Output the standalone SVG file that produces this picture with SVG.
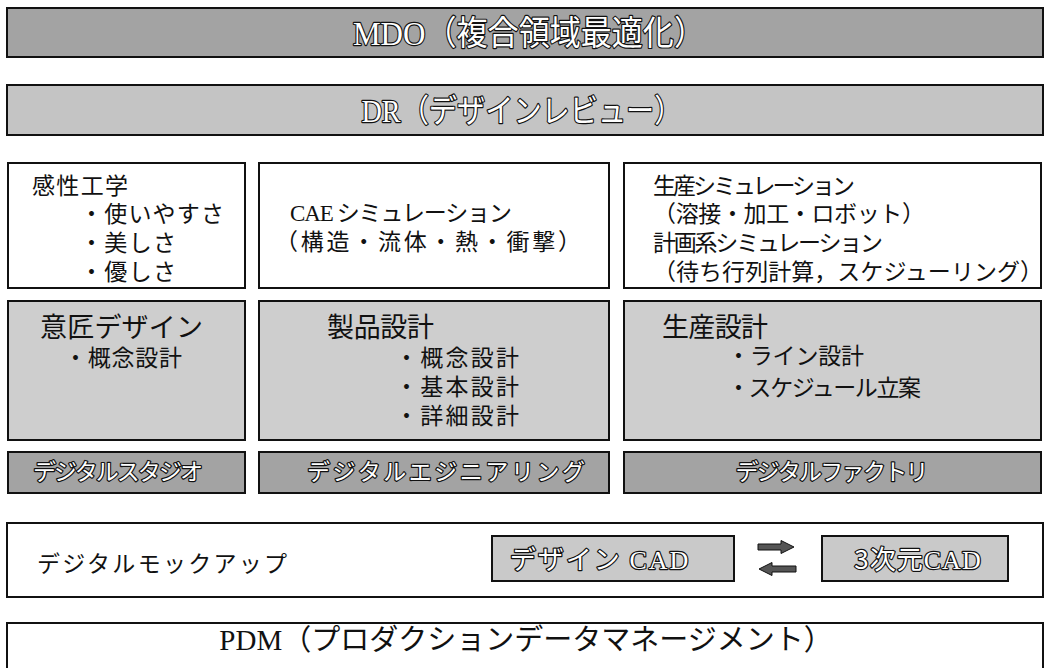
<svg xmlns="http://www.w3.org/2000/svg" width="1047" height="668" viewBox="0 0 1047 668">
<style>
  .box{stroke:#111;stroke-width:2}
  .w{fill:#fff}
  .dk{fill:#a3a3a3}
  .lt{fill:#c4c4c4}
  .md{fill:#cecece}
  .cad{fill:#c9c9c9}
  text{font-family:"Noto Sans CJK JP",sans-serif;fill:#111}
  .ser{font-family:"Liberation Serif","Noto Sans CJK JP",serif}
  .ol{fill:#fff;stroke:#111;stroke-width:2.4;paint-order:stroke;stroke-linejoin:round}
  .b{font-size:23px}
  .t{font-size:27px}
  .arr{fill:#555;stroke:#111;stroke-width:1}
</style>
<rect width="1047" height="668" fill="#fff"/>

<g id="mdo">
  <rect class="box dk" x="7" y="8" width="1036" height="49"/>
  <text class="ol" x="529" y="45" text-anchor="middle" font-size="34" textLength="352" lengthAdjust="spacingAndGlyphs"><tspan class="ser">MDO</tspan>（複合領域最適化）</text>
</g>

<g id="dr">
  <rect class="box lt" x="7" y="85" width="1036" height="50"/>
  <text class="ol" x="522" y="122" text-anchor="middle" font-size="32" textLength="321" lengthAdjust="spacingAndGlyphs"><tspan class="ser">DR</tspan>（デザインレビュー）</text>
</g>

<g id="kansei">
  <rect class="box w" x="8" y="163" width="237" height="125"/>
  <text class="b" x="32" y="194" textLength="96">感性工学</text>
  <text class="b" x="80" y="222" textLength="144">・使いやすさ</text>
  <text class="b" x="80" y="251" textLength="96">・美しさ</text>
  <text class="b" x="80" y="280" textLength="96">・優しさ</text>
</g>

<g id="cae">
  <rect class="box w" x="259" y="163" width="350" height="125"/>
  <text class="b" x="290" y="221" textLength="222"><tspan class="ser">CAE</tspan> シミュレーション</text>
  <text class="b" x="275" y="250" textLength="306">（構造・流体・熱・衝撃）</text>
</g>

<g id="seisan-sim">
  <rect class="box w" x="624" y="163" width="417" height="125"/>
  <text class="b" x="653" y="194" textLength="202">生産シミュレーション</text>
  <text class="b" x="653" y="222" textLength="272">（溶接・加工・ロボット）</text>
  <text class="b" x="653" y="251" textLength="230">計画系シミュレーション</text>
  <text class="b" x="653" y="280" textLength="390">（待ち行列計算，スケジューリング）</text>
</g>

<g id="isho">
  <rect class="box md" x="8" y="301" width="237" height="139"/>
  <text class="t" x="40" y="337" textLength="163">意匠デザイン</text>
  <text class="b" x="64" y="366" textLength="118">・概念設計</text>
</g>

<g id="seihin">
  <rect class="box md" x="259" y="301" width="350" height="139"/>
  <text class="t" x="327" y="337" textLength="107">製品設計</text>
  <text class="b" x="395" y="366" textLength="124">・概念設計</text>
  <text class="b" x="395" y="395" textLength="124">・基本設計</text>
  <text class="b" x="395" y="424" textLength="124">・詳細設計</text>
</g>

<g id="seisan">
  <rect class="box md" x="624" y="301" width="417" height="139"/>
  <text class="t" x="662" y="337" textLength="106">生産設計</text>
  <text class="b" x="727" y="364" textLength="137">・ライン設計</text>
  <text class="b" x="727" y="396" textLength="194">・スケジュール立案</text>
</g>

<g id="studio">
  <rect class="box dk" x="8" y="452" width="237" height="41"/>
  <text class="b ol" x="118" y="480" text-anchor="middle" textLength="170">デジタルスタジオ</text>
</g>

<g id="engineering">
  <rect class="box dk" x="259" y="452" width="350" height="41"/>
  <text class="b ol" x="446" y="480" text-anchor="middle" textLength="278">デジタルエジニアリング</text>
</g>

<g id="factory">
  <rect class="box dk" x="624" y="452" width="417" height="41"/>
  <text class="b ol" x="832" y="480" text-anchor="middle" textLength="193">デジタルファクトリ</text>
</g>

<g id="mockup">
  <rect class="box w" x="7" y="523" width="1036" height="74"/>
  <text class="b" x="37" y="572" textLength="250">デジタルモックアップ</text>
</g>

<g id="design-cad">
  <rect class="box cad" x="492" y="536" width="242" height="45"/>
  <text class="ol" x="600" y="569" font-size="26" text-anchor="middle" letter-spacing="2">デザイン <tspan class="ser">CAD</tspan></text>
</g>

<g id="cad3d">
  <rect class="box cad" x="822" y="536" width="186" height="45"/>
  <text class="ol" x="918" y="569" font-size="26" text-anchor="middle" letter-spacing="1">3次元<tspan class="ser">CAD</tspan></text>
</g>

<g id="connectors">
  <polygon class="arr" points="758,544 781,544 781,540.5 794,547 781,553.5 781,550 758,550"/>
  <polygon class="arr" points="796,566 772,566 772,562.5 759,569 772,575.5 772,572 796,572"/>
</g>

<g id="pdm">
  <rect class="box w" x="7" y="623" width="1036" height="55"/>
  <text x="526" y="650" font-size="29" text-anchor="middle"><tspan class="ser">PDM</tspan>（プロダクションデータマネージメント）</text>
</g>
</svg>
